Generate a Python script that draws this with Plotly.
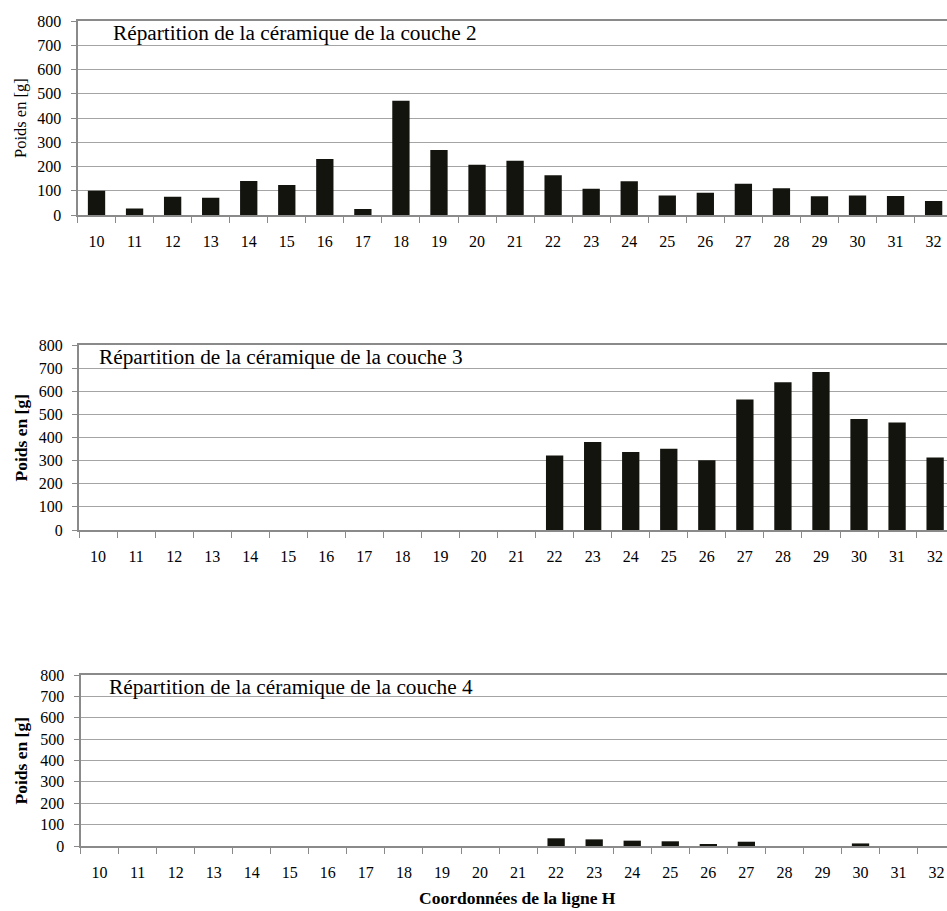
import plotly.graph_objects as go

categories = ["10", "11", "12", "13", "14", "15", "16", "17", "18", "19", "20", "21",
              "22", "23", "24", "25", "26", "27", "28", "29", "30", "31", "32"]
couche2 = [100, 27, 75, 71, 140, 124, 231, 25, 471, 268, 207, 224,
           164, 108, 139, 80, 92, 129, 110, 77, 80, 78, 58]
couche3 = [0, 0, 0, 0, 0, 0, 0, 0, 0, 0, 0, 0,
           322, 381, 337, 351, 302, 564, 639, 683, 480, 465, 314]
couche4 = [0, 0, 0, 0, 0, 0, 0, 0, 0, 0, 0, 0,
           36, 31, 25, 22, 9, 20, 0, 0, 12, 0, 0]
titles = ["Répartition de la céramique de la couche 2",
          "Répartition de la céramique de la couche 3",
          "Répartition de la céramique de la couche 4"]
y_title = "Poids en [g]"
x_title = "Coordonnées de la ligne H"
y_ticks = [0, 100, 200, 300, 400, 500, 600, 700, 800]

W, H = 947, 911
FONT = "Liberation Serif, serif"

# pixel geometry of the three panels: (left, top, bottom)
panels = [(77.5, 21, 215), (79, 345, 530), (80.5, 675, 846)]
title_pos = [(111, 33), (97, 357), (107, 687)]
ytitle_bold = [False, True, True]
series = [couche2, couche3, couche4]
step = 38.05

fig = go.Figure()
layout = dict(width=W, height=H, margin=dict(l=0, r=0, t=0, b=0),
              paper_bgcolor="white", plot_bgcolor="white", showlegend=False,
              bargap=0.545, font=dict(family=FONT, color="black", size=16))
annotations = []
for i, (vals, (x0, yt, yb)) in enumerate(zip(series, panels)):
    n = "" if i == 0 else str(i + 1)
    fig.add_trace(go.Bar(x=categories, y=vals, xaxis="x" + n, yaxis="y" + n,
                         marker=dict(color="#14140f", line=dict(width=0))))
    xr_end = (W - x0) / step - 0.5
    layout["xaxis" + n] = dict(domain=[x0 / W, 1], anchor="y" + n, type="category",
                               range=[-0.5, xr_end], showgrid=False,
                               showline=True, linecolor="#8a8a8a", linewidth=2, mirror=True,
                               ticks="outside", tickson="boundaries", ticklen=6,
                               tickcolor="#8a8a8a", tickwidth=1,
                               tickfont=dict(family=FONT, size=16, color="black"),
                               ticklabelstandoff=11, automargin=False, fixedrange=True)
    layout["yaxis" + n] = dict(domain=[1 - yb / H, 1 - yt / H], anchor="x" + n,
                               range=[0, 800], tickvals=y_ticks,
                               showgrid=True, gridcolor="#a4a4a4", gridwidth=1,
                               showline=True, linecolor="#8a8a8a", linewidth=2,
                               ticks="outside", ticklen=5, tickcolor="#8a8a8a",
                               tickfont=dict(family=FONT, size=16, color="black"),
                               ticklabelstandoff=6, zeroline=False, automargin=False,
                               fixedrange=True)
    tx, ty = title_pos[i]
    annotations.append(dict(text=titles[i], xref="paper", yref="paper",
                            x=tx / W, y=1 - ty / H, xanchor="left", yanchor="middle",
                            showarrow=False, font=dict(family=FONT, size=21.3, color="black")))
    yt_text = "<b>" + y_title + "</b>" if ytitle_bold[i] else y_title
    annotations.append(dict(text=yt_text, xref="paper", yref="paper",
                            x=20 / W, y=1 - ((yt + yb) / 2) / H, xanchor="center",
                            yanchor="middle", textangle=-90, showarrow=False,
                            font=dict(family=FONT, size=17.5 if ytitle_bold[i] else 16.5,
                                      color="black")))

annotations.append(dict(text="<b>" + x_title + "</b>", xref="paper", yref="paper",
                        x=517 / W, y=1 - 898 / H, xanchor="center", yanchor="middle",
                        showarrow=False, borderpad=0,
                        font=dict(family=FONT, size=17.5, color="black")))
layout["annotations"] = annotations
fig.update_layout(**layout)
fig.write_html("out.html", config={"displayModeBar": False},
               post_script="document.body.style.margin='0';document.body.style.overflow='hidden';")
